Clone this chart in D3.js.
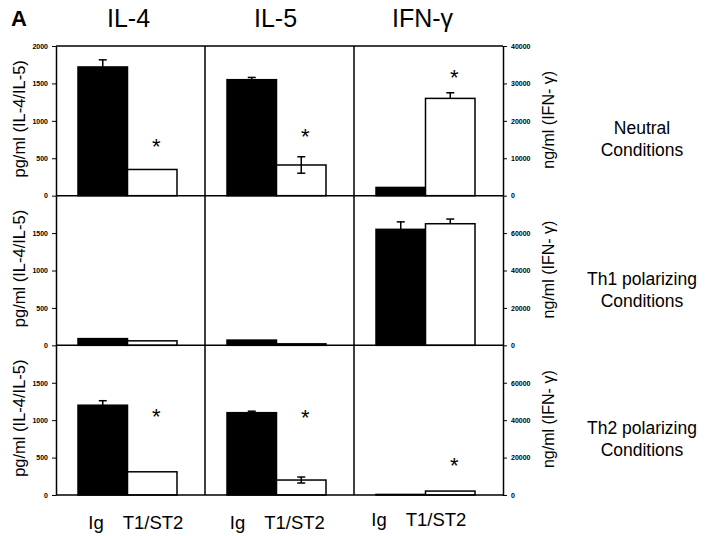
<!DOCTYPE html>
<html>
<head>
<meta charset="utf-8">
<script src="https://cdn.jsdelivr.net/npm/d3@7"></script>
<style>
  body { margin: 0; background: #fff; }
  svg { font-family: "Liberation Sans", Arial, sans-serif; }
  .tick text { font-size: 7px; font-weight: bold; fill: #000; }
  .tick line { stroke: #000; }
</style>
</head>
<body>
<svg id="chart" width="720" height="536"></svg>
<script>
var cytokines = ['IL-4', 'IL-5', 'IFN-\u03b3'];
var conditions = [['Neutral', 'Conditions'], ['Th1 polarizing', 'Conditions'], ['Th2 polarizing', 'Conditions']];
var groups = ['Ig', 'T1/ST2'];

// rows = conditions, columns = cytokines
var igValues = [[1720, 1550, 2200], [90, 70, 62000], [1200, 1100, 300]];
var t1Values = [[350, 410, 26000], [60, 20, 65000], [310, 200, 2100]];
var igErr = [[95, 30, 0], [0, 0, 4000], [60, 20, 0]];
var t1Err = [[0, 110, 1500], [0, 0, 2500], [0, 40, 0]];
var t1ErrBoth = [[false, true, false], [false, false, false], [false, true, false]];
// asterisk level (in axis units), null = none
var stars = [[720, 850, 32700], [null, null, null], [1110, 1090, 18000]];

var leftMax = [2000, 2000, 2000];
var leftTicks = [[0, 500, 1000, 1500, 2000], [0, 500, 1000, 1500], [0, 500, 1000, 1500]];
var rightMax = [40000, 80000, 80000];
var rightTicks = [[0, 10000, 20000, 30000, 40000], [0, 20000, 40000, 60000], [0, 20000, 40000, 60000]];

var svg = d3.select('#chart');
var plotL = 56, plotR = 503, plotT = 46, plotB = 495;

var colScale = d3.scaleBand().domain([0, 1, 2]).range([plotL, plotR]);
var rowScale = d3.scaleBand().domain([0, 1, 2]).range([plotT, plotB]);
var cw = colScale.bandwidth();

//=======================
// bars, errors, asterisks
//=======================
[0, 1, 2].forEach(function (r) {
	var y0 = rowScale(r), y1 = y0 + rowScale.bandwidth();
	var yL = d3.scaleLinear().domain([0, leftMax[r]]).range([y1, y0]);
	var yR = d3.scaleLinear().domain([0, rightMax[r]]).range([y1, y0]);

	[0, 1, 2].forEach(function (c) {
		var y = c == 2 ? yR : yL;
		var cx = colScale(c);
		var xb = d3.scaleBand().domain(groups).range([cx + 22, cx + 121]);
		var vals = [igValues[r][c], t1Values[r][c]];
		var errs = [igErr[r][c], t1Err[r][c]];

		groups.forEach(function (g, i) {
			svg.append('rect')
				.attr('x', xb(g))
				.attr('y', y(vals[i]))
				.attr('width', xb.bandwidth())
				.attr('height', y(0) - y(vals[i]))
				.style('fill', i == 0 ? '#000' : '#fff')
				.style('stroke', '#000')
				.style('stroke-width', 1.5);

			if (errs[i] > 0) {
				var mx = xb(g) + xb.bandwidth() / 2;
				var both = i == 1 && t1ErrBoth[r][c];
				var lo = both ? vals[i] - errs[i] : vals[i];
				var hi = vals[i] + errs[i];
				svg.append('line')
					.attr('x1', mx).attr('x2', mx)
					.attr('y1', y(lo)).attr('y2', y(hi))
					.style('stroke', '#000').style('stroke-width', 1.5);
				svg.append('line')
					.attr('x1', mx - 4).attr('x2', mx + 4)
					.attr('y1', y(hi)).attr('y2', y(hi))
					.style('stroke', '#000').style('stroke-width', 1.5);
				if (both) {
					svg.append('line')
						.attr('x1', mx - 4).attr('x2', mx + 4)
						.attr('y1', y(lo)).attr('y2', y(lo))
						.style('stroke', '#000').style('stroke-width', 1.5);
				}
			}
		});

		if (stars[r][c] != null) {
			svg.append('text')
				.attr('x', xb('T1/ST2') + xb.bandwidth() / 2 + 4)
				.attr('y', y(stars[r][c]) + 12)
				.attr('text-anchor', 'middle')
				.style('font-size', '22px')
				.text('*');
		}
	});

	// x axis line of the row
	svg.append('line')
		.attr('x1', plotL).attr('x2', plotR)
		.attr('y1', y1).attr('y2', y1)
		.style('stroke', '#000').style('stroke-width', 1.5);

	// left axis
	svg.append('g')
		.attr('transform', 'translate(' + plotL + ',0)')
		.call(d3.axisLeft(yL).tickValues(leftTicks[r]).tickFormat(d3.format('d')).tickSize(4).tickSizeOuter(0).tickPadding(4))
		.call(function (g) { g.select('.domain').style('stroke', '#000').style('stroke-width', 1.5); });

	// right axis
	svg.append('g')
		.attr('transform', 'translate(' + plotR + ',0)')
		.call(d3.axisRight(yR).tickValues(rightTicks[r]).tickFormat(d3.format('d')).tickSize(4).tickSizeOuter(0).tickPadding(4))
		.call(function (g) { g.select('.domain').style('stroke', '#000').style('stroke-width', 1.5); });

	// axis titles
	var ym = (y0 + y1) / 2;
	svg.append('text')
		.attr('transform', 'translate(25,' + (ym - 2) + ') rotate(-90)')
		.attr('text-anchor', 'middle')
		.style('font-size', '16.5px')
		.text('pg/ml (IL-4/IL-5)');
	svg.append('text')
		.attr('transform', 'translate(554,' + (ym - 1) + ') rotate(-90)')
		.attr('text-anchor', 'middle')
		.style('font-size', '16px')
		.text('ng/ml (IFN- \u03b3)');

	// condition labels
	conditions[r].forEach(function (line, k) {
		svg.append('text')
			.attr('x', 642)
			.attr('y', ym + 14 + k * 22 - (r == 0 ? 1 : 0))
			.attr('text-anchor', 'middle')
			.style('font-size', '17.5px')
			.text(line);
	});
});

// frame: top line and column dividers
svg.append('line')
	.attr('x1', plotL).attr('x2', plotR)
	.attr('y1', plotT).attr('y2', plotT)
	.style('stroke', '#000').style('stroke-width', 1.5);
[1, 2].forEach(function (c) {
	svg.append('line')
		.attr('x1', colScale(c)).attr('x2', colScale(c))
		.attr('y1', plotT).attr('y2', plotB)
		.style('stroke', '#000').style('stroke-width', 1.5);
});

// column titles
cytokines.forEach(function (name, c) {
	svg.append('text')
		.attr('x', colScale(c) + cw / 2 - 2 - c * 2)
		.attr('y', 27)
		.attr('text-anchor', 'middle')
		.style('font-size', '25px')
		.text(name);

	// group labels under the columns
	groups.forEach(function (g, i) {
		svg.append('text')
			.attr('x', colScale(c) + (i == 0 ? 40 : 97) - c * 7.5)
			.attr('y', 529 - (c == 2 ? 3 : 0))
			.attr('text-anchor', 'middle')
			.style('font-size', '18.5px')
			.text(g);
	});
});

svg.append('text')
	.attr('x', 11)
	.attr('y', 26)
	.style('font-size', '22px')
	.style('font-weight', 'bold')
	.text('A');
</script>
</body>
</html>
